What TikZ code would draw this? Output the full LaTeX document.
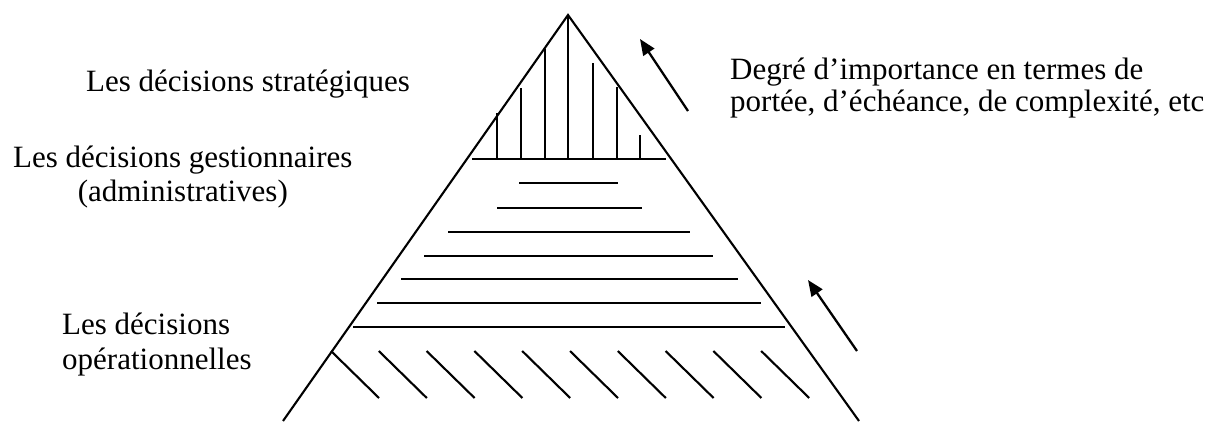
\documentclass[tikz,border=0pt]{standalone}
\usepackage{fontspec}
\setmainfont{Liberation Serif}
\usetikzlibrary{arrows.meta}
\begin{document}
\begin{tikzpicture}[x=1pt,y=-1pt,
  edge/.style={line width=2.1pt},
  hline/.style={line width=2.4pt},
  lbl/.style={font=\fontsize{31}{36}\selectfont, inner sep=0pt, anchor=base west},
  arr/.style={line width=2.3pt, -{Triangle[length=16pt,width=13pt]}}]
\useasboundingbox (0,0) rectangle (1221,421);
\coordinate (apex) at (568,15);
\coordinate (bl) at (283,421);
\coordinate (br) at (859,421);
\draw[edge] (bl) -- (apex) -- (br);
% top section: vertical hatching
\draw[hline] (472,159) -- (666,159);
\foreach \x/\t in {497/113, 521/88, 545/49, 568/15, 593/63, 617/87, 640/135}
  \draw[hline] (\x,159) -- (\x,\t);
% middle section: horizontal lines
\foreach \y/\a/\b in {183/519/618, 208/497/642, 232/448/690, 256/424/713, 279/401/738, 303/377/761, 327/353/785}
  \draw[hline] (\a,\y) -- (\b,\y);
% bottom section: diagonal hatching
\foreach \x in {331,378.8,426.6,474.4,522.2,570,617.8,665.6,713.4,761.2}
  \draw[edge] (\x,351) -- ++(48,47);
% arrows
\coordinate (a1s) at (688,111);
\coordinate (a1e) at (640,39);
\coordinate (a2s) at (857,351);
\coordinate (a2e) at (808,280);
\draw[arr] (a1s) -- (a1e);
\draw[arr] (a2s) -- (a2e);
% labels
\node[lbl] (strat) at (86,91) {Les décisions stratégiques};
\node[lbl] (gest) at (13,167) {Les décisions gestionnaires};
\node[lbl, anchor=base] (admin) at (gest.base |- 0,201) {(administratives)};
\node[lbl] (oper1) at (62,334) {Les décisions};
\node[lbl] (oper2) at (62,369) {opérationnelles};
\node[lbl] (degre1) at (730,79) {Degré d’importance en termes de};
\node[lbl] (degre2) at (730,111) {portée, d’échéance, de complexité, etc};
\end{tikzpicture}
\end{document}
